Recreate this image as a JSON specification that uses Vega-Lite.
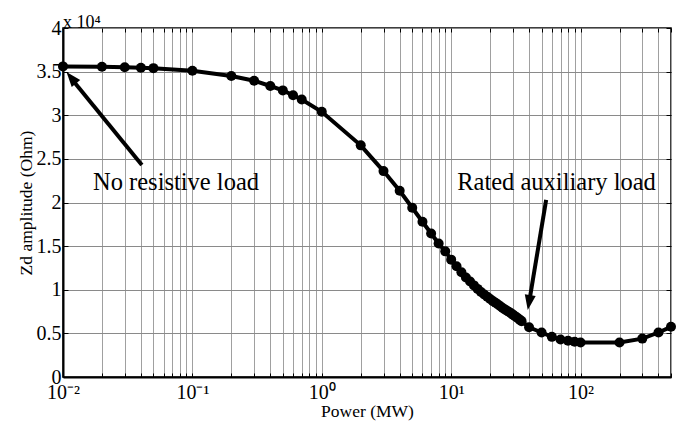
{
  "$schema": "https://vega.github.io/schema/vega-lite/v6.json",
  "width": 608,
  "height": 349,
  "autosize": {"type": "none"},
  "padding": {"left": 63, "top": 28, "right": 7, "bottom": 44},
  "background": "white",
  "config": {
    "font": "Liberation Serif",
    "axis": {"labelFont": "Liberation Serif", "titleFont": "Liberation Serif"},
    "text": {"font": "Liberation Serif"},
    "view": {"stroke": "black", "strokeWidth": 1.5}
  },
  "title": {"text": "x 10⁴", "anchor": "start", "frame": "group", "fontSize": 18, "fontWeight": "normal", "font": "Liberation Serif", "color": "black", "offset": 2, "dy": 16},
  "datasets": {
    "zd": [
      {"p": 0.01, "z": 35600}, {"p": 0.02, "z": 35550}, {"p": 0.03, "z": 35500}, {"p": 0.04, "z": 35450}, {"p": 0.05, "z": 35400},
      {"p": 0.1, "z": 35100}, {"p": 0.2, "z": 34500}, {"p": 0.3, "z": 33950}, {"p": 0.4, "z": 33350}, {"p": 0.5, "z": 32850},
      {"p": 0.6, "z": 32300}, {"p": 0.7, "z": 31800}, {"p": 1, "z": 30400}, {"p": 2, "z": 26550}, {"p": 3, "z": 23600},
      {"p": 4, "z": 21350}, {"p": 5, "z": 19400}, {"p": 6, "z": 17800}, {"p": 7, "z": 16450}, {"p": 8, "z": 15300},
      {"p": 9, "z": 14400}, {"p": 10, "z": 13450}, {"p": 11, "z": 12700}, {"p": 12, "z": 12000}, {"p": 13, "z": 11400},
      {"p": 14, "z": 10950}, {"p": 15, "z": 10500}, {"p": 16, "z": 10100}, {"p": 17, "z": 9750}, {"p": 18, "z": 9450},
      {"p": 19, "z": 9200}, {"p": 20, "z": 8950}, {"p": 21, "z": 8700}, {"p": 22, "z": 8500}, {"p": 23, "z": 8300},
      {"p": 24, "z": 8100}, {"p": 25, "z": 7900}, {"p": 26, "z": 7750}, {"p": 27, "z": 7600}, {"p": 28, "z": 7450},
      {"p": 29, "z": 7300}, {"p": 30, "z": 7150}, {"p": 31, "z": 7000}, {"p": 32, "z": 6850}, {"p": 33, "z": 6700},
      {"p": 34, "z": 6550}, {"p": 35, "z": 6400}, {"p": 40, "z": 5700}, {"p": 50, "z": 5100}, {"p": 60, "z": 4600},
      {"p": 70, "z": 4300}, {"p": 80, "z": 4150}, {"p": 90, "z": 4050}, {"p": 100, "z": 3950}, {"p": 200, "z": 3950},
      {"p": 300, "z": 4400}, {"p": 400, "z": 5100}, {"p": 500, "z": 5750}
    ],
    "notes": [
      {"x": 0.01706, "y": 21430, "label": "No resistive load"},
      {"x": 11.13, "y": 21430, "label": "Rated auxiliary load"}
    ],
    "arrows": [
      {"x": 0.0407, "y": 24300, "x2": 0.0118, "y2": 34060},
      {"x": 54.2, "y": 20300, "x2": 40.3, "y2": 8810}
    ],
    "tip1": [{"x": 0.01064, "y": 34960}],
    "tip2": [{"x": 39.1, "y": 7680}]
  },
  "layer": [
    {
      "data": {"name": "zd"},
      "mark": {"type": "line", "color": "black", "strokeWidth": 4, "point": {"filled": true, "size": 100, "color": "black"}},
      "encoding": {
        "x": {
          "field": "p", "type": "quantitative",
          "scale": {"type": "log", "domain": [0.01, 500], "nice": false},
          "axis": {
            "orient": "bottom",
            "values": [0.01,0.02,0.03,0.04,0.05,0.06,0.07,0.08,0.09,0.1,0.2,0.3,0.4,0.5,0.6,0.7,0.8,0.9,1,2,3,4,5,6,7,8,9,10,20,30,40,50,60,70,80,90,100,200,300,400,500],
            "labelExpr": "datum.value === 0.01 ? '10⁻²' : datum.value === 0.1 ? '10⁻¹' : datum.value === 1 ? '10⁰' : datum.value === 10 ? '10¹' : datum.value === 100 ? '10²' : ''",
            "labelFont": "Liberation Serif",
            "labelFontSize": 20, "labelColor": "black", "labelFlush": false, "labelOverlap": false,
            "labelPadding": 9,
            "tickColor": "black", "tickSize": -4, "tickWidth": 1,
            "grid": true, "gridColor": "#a0a0a0", "gridWidth": 1,
            "domainColor": "black", "domainWidth": 2,
            "title": "Power (MW)", "titleFont": "Liberation Serif", "titleFontSize": 17.5, "titleFontWeight": "normal", "titleColor": "black",
            "titleBaseline": "alphabetic", "titleY": 39
          }
        },
        "y": {
          "field": "z", "type": "quantitative",
          "scale": {"domain": [0, 40000], "nice": false, "zero": true},
          "axis": {
            "orient": "left",
            "values": [0,5000,10000,15000,20000,25000,30000,35000,40000],
            "labelExpr": "'' + datum.value / 10000",
            "labelFont": "Liberation Serif",
            "labelFontSize": 20, "labelColor": "black", "labelFlush": false, "labelOverlap": false,
            "labelPadding": 7,
            "tickColor": "black", "tickSize": -5, "tickWidth": 1,
            "grid": true, "gridColor": "#8a8a8a", "gridWidth": 1,
            "domainColor": "black", "domainWidth": 2,
            "title": "Zd amplitude (Ohm)", "titleFont": "Liberation Serif", "titleFontSize": 17.5, "titleFontWeight": "normal", "titleColor": "black",
            "titleBaseline": "middle", "titleX": -37
          }
        }
      }
    },
    {
      "data": {"name": "zd"},
      "mark": {"type": "point", "opacity": 0},
      "encoding": {
        "x": {
          "field": "p", "type": "quantitative",
          "scale": {"type": "log", "domain": [0.01, 500], "nice": false},
          "axis": {
            "orient": "top",
            "values": [0.01,0.02,0.03,0.04,0.05,0.06,0.07,0.08,0.09,0.1,0.2,0.3,0.4,0.5,0.6,0.7,0.8,0.9,1,2,3,4,5,6,7,8,9,10,20,30,40,50,60,70,80,90,100,200,300,400,500],
            "labels": false, "grid": false, "domain": false, "title": null,
            "tickColor": "black", "tickSize": -4, "tickWidth": 1
          }
        },
        "y": {
          "field": "z", "type": "quantitative",
          "scale": {"domain": [0, 40000], "nice": false, "zero": true},
          "axis": {
            "orient": "right",
            "values": [0,5000,10000,15000,20000,25000,30000,35000,40000],
            "labels": false, "grid": false, "domain": false, "title": null,
            "tickColor": "black", "tickSize": -5, "tickWidth": 1
          }
        }
      }
    },
    {
      "data": {"name": "notes"},
      "mark": {"type": "text", "align": "left", "baseline": "alphabetic", "fontSize": 24.5, "color": "black", "font": "Liberation Serif"},
      "encoding": {
        "x": {"field": "x", "type": "quantitative", "scale": {"type": "log"}, "axis": null},
        "y": {"field": "y", "type": "quantitative", "axis": null},
        "text": {"field": "label"}
      }
    },
    {
      "data": {"name": "arrows"},
      "mark": {"type": "rule", "color": "black", "strokeWidth": 4},
      "encoding": {
        "x": {"field": "x", "type": "quantitative", "scale": {"type": "log"}, "axis": null},
        "y": {"field": "y", "type": "quantitative", "axis": null},
        "x2": {"field": "x2"},
        "y2": {"field": "y2"}
      }
    },
    {
      "data": {"name": "tip1"},
      "mark": {"type": "point", "shape": "M0,0L-0.55,1.5L0.55,1.5Z", "filled": true, "color": "black", "opacity": 1, "size": 400, "angle": 320.8},
      "encoding": {
        "x": {"field": "x", "type": "quantitative", "scale": {"type": "log"}, "axis": null},
        "y": {"field": "y", "type": "quantitative", "axis": null}
      }
    },
    {
      "data": {"name": "tip2"},
      "mark": {"type": "point", "shape": "M0,0L-0.55,1.5L0.55,1.5Z", "filled": true, "color": "black", "opacity": 1, "size": 400, "angle": 189.4},
      "encoding": {
        "x": {"field": "x", "type": "quantitative", "scale": {"type": "log"}, "axis": null},
        "y": {"field": "y", "type": "quantitative", "axis": null}
      }
    }
  ],
  "resolve": {"axis": {"x": "independent", "y": "independent"}}
}
